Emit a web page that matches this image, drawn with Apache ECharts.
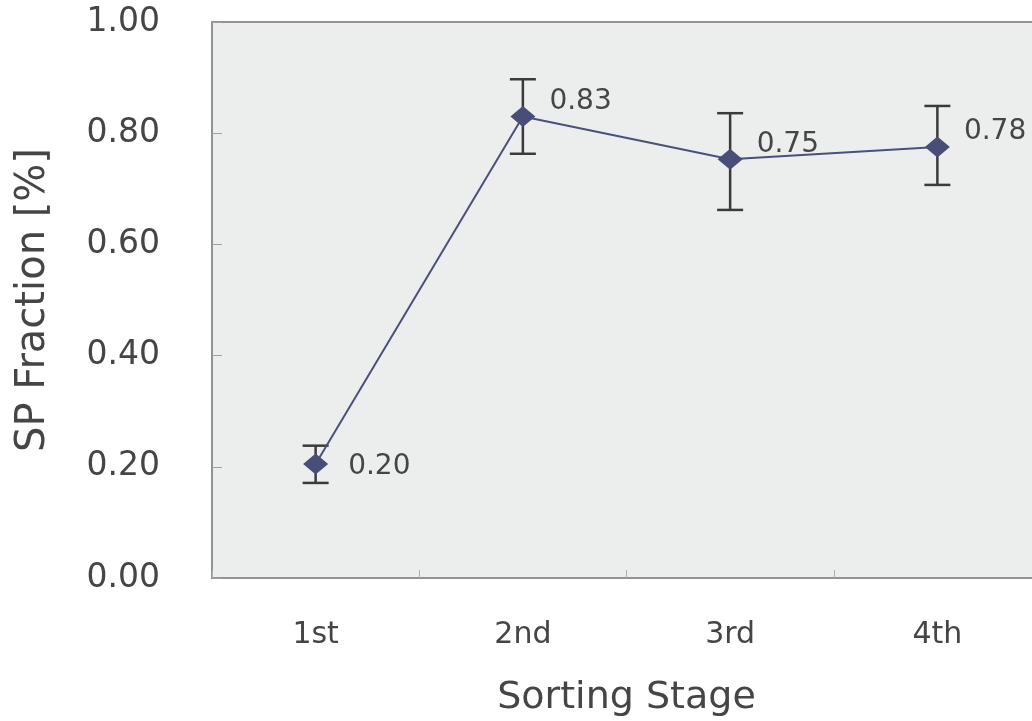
<!DOCTYPE html>
<html>
<head>
<meta charset="utf-8">
<script src="https://cdn.jsdelivr.net/npm/echarts@6/dist/echarts.min.js"></script>
<style>html,body{margin:0;padding:0;background:#fff;}#c{width:1032px;height:721px;}</style>
</head>
<body>
<div id="c"></div>
<script>
const categories = ['1st', '2nd', '3rd', '4th'];
const spFraction = [0.205, 0.830, 0.753, 0.775];
const errorLow = [0.171, 0.763, 0.662, 0.707];
const errorHigh = [0.238, 0.897, 0.836, 0.849];
const valueLabels = ['0.20', '0.83', '0.75', '0.78'];
const yTicks = [0, 0.2, 0.4, 0.6, 0.8, 1.0];

const chart = echarts.init(document.getElementById('c'));
const txt = '#454545';
const font = 'DejaVu Sans';

const errData = categories.map((c, i) => [i, errorLow[i], errorHigh[i]]);

chart.setOption({
  animation: false,
  backgroundColor: '#ffffff',
  grid: {
    left: 212, top: 22, width: 829, height: 556,
    outerBoundsMode: 'none',
    containLabel: false,
    show: true, backgroundColor: '#eceeed', borderColor: '#939393', borderWidth: 2
  },
  xAxis: {
    type: 'category',
    data: categories,
    boundaryGap: true,
    axisLine: { show: false },
    axisTick: { show: true, inside: true, length: 8, lineStyle: { color: '#b0b0b0', width: 1 } },
    axisLabel: { color: txt, fontSize: 30, fontFamily: font, margin: 42 },
    name: 'Sorting Stage',
    nameLocation: 'middle',
    nameGap: 101,
    nameTextStyle: { color: txt, fontSize: 38, fontFamily: font }
  },
  yAxis: {
    type: 'value',
    min: yTicks[0],
    max: yTicks[yTicks.length - 1],
    interval: 0.2,
    axisLine: { show: false },
    axisTick: { show: true, inside: true, length: 10, lineStyle: { color: '#a0a0a0', width: 1 } },
    splitLine: { show: false },
    axisLabel: { color: txt, fontSize: 33, fontFamily: font, margin: 52, formatter: v => v.toFixed(2) },
    name: 'SP Fraction [%]',
    nameLocation: 'middle',
    nameGap: 158,
    nameTextStyle: { color: txt, fontSize: 40, fontFamily: font }
  },
  series: [
    {
      type: 'custom',
      data: errData,
      z: 2,
      renderItem: function (params, api) {
        const x = api.value(0);
        const lo = api.coord([x, api.value(1)]);
        const hi = api.coord([x, api.value(2)]);
        const hw = 13;
        const st = { stroke: '#3a3a3a', lineWidth: 2.5 };
        return {
          type: 'group',
          children: [
            { type: 'line', shape: { x1: lo[0], y1: lo[1], x2: hi[0], y2: hi[1] }, style: st },
            { type: 'line', shape: { x1: lo[0] - hw, y1: lo[1], x2: lo[0] + hw, y2: lo[1] }, style: st },
            { type: 'line', shape: { x1: hi[0] - hw, y1: hi[1], x2: hi[0] + hw, y2: hi[1] }, style: st }
          ]
        };
      }
    },
    {
      type: 'line',
      data: spFraction.map((v, i) => ({
        value: v,
        label: { offset: i === 0 ? [6, 3] : [0, -15] }
      })),
      z: 3,
      symbol: 'diamond',
      symbolSize: [25, 21],
      itemStyle: { color: '#484e78' },
      lineStyle: { color: '#4a507c', width: 2 },
      label: {
        show: true,
        position: 'right',
        distance: 14,
        color: txt,
        fontSize: 28,
        fontFamily: font,
        formatter: p => valueLabels[p.dataIndex]
      }
    }
  ]
});
</script>
</body>
</html>
